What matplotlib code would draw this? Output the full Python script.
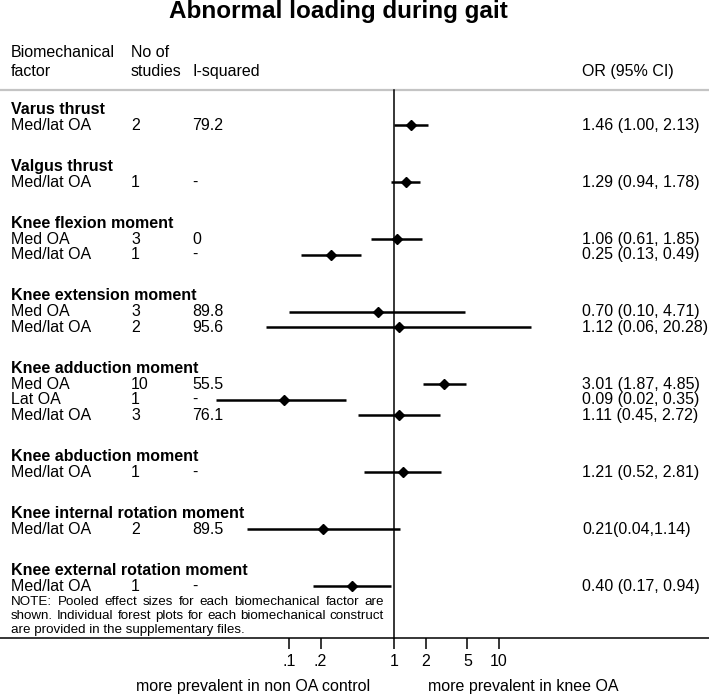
import numpy as np
import matplotlib
matplotlib.use("Agg")
import matplotlib.pyplot as plt
from matplotlib.transforms import blended_transform_factory

plt.rcParams['font.family'] = ['Liberation Sans', 'DejaVu Sans']

# data
factors = ["Varus thrust", "Valgus thrust", "Knee flexion moment",
           "Knee extension moment", "Knee adduction moment",
           "Knee abduction moment", "Knee internal rotation moment",
           "Knee external rotation moment"]
group_of = [0, 1, 2, 2, 3, 3, 4, 4, 4, 5, 6, 7]
subgroups = ["Med/lat OA", "Med/lat OA", "Med OA", "Med/lat OA", "Med OA",
             "Med/lat OA", "Med OA", "Lat OA", "Med/lat OA", "Med/lat OA",
             "Med/lat OA", "Med/lat OA"]
n_studies = ["2", "1", "3", "1", "3", "2", "10", "1", "3", "1", "2", "1"]
i_squared = ["79.2", "-", "0", "-", "89.8", "95.6", "55.5", "-", "76.1",
             "-", "89.5", "-"]
or_est = [1.46, 1.29, 1.06, 0.25, 0.70, 1.12, 3.01, 0.09, 1.11, 1.21, 0.21, 0.40]
ci_lo = [1.00, 0.94, 0.61, 0.13, 0.10, 0.06, 1.87, 0.02, 0.45, 0.52, 0.04, 0.17]
ci_hi = [2.13, 1.78, 1.85, 0.49, 4.71, 20.28, 4.85, 0.35, 2.72, 2.81, 1.14, 0.94]
or_text = ["1.46 (1.00, 2.13)", "1.29 (0.94, 1.78)", "1.06 (0.61, 1.85)",
           "0.25 (0.13, 0.49)", "0.70 (0.10, 4.71)", "1.12 (0.06, 20.28)",
           "3.01 (1.87, 4.85)", "0.09 (0.02, 0.35)", "1.11 (0.45, 2.72)",
           "1.21 (0.52, 2.81)", "0.21(0.04,1.14)", "0.40 (0.17, 0.94)"]
tick_vals = [0.1, 0.2, 1, 2, 5, 10]
tick_labels = [".1", ".2", "1", "2", "5", "10"]
note_lines = ["NOTE: Pooled effect sizes for each biomechanical factor are",
              "shown. Individual forest plots for each biomechanical construct",
              "are provided in the supplementary files."]

W, H = 709, 694
x_one, px_dec = 394, 105   # pixel of OR=1, pixels per decade

fig = plt.figure(figsize=(W / 100, H / 100), dpi=100)
ax = fig.add_axes([0, 0, 1, 1])
ax.set_xscale('log')
ax.set_xlim(10 ** (-x_one / px_dec), 10 ** ((W - x_one) / px_dec))
ax.set_ylim(H, 0)
ax.axis('off')
tr = blended_transform_factory(ax.transAxes, ax.transData)

fs = 11.5


def put(px, y, s, **kw):
    kw.setdefault('fontsize', fs)
    kw.setdefault('va', 'center')
    ax.text(px / W, y, s, transform=tr, **kw)


# title and header
put(338, 11, "Abnormal loading during gait", fontsize=17.5, weight='bold', ha='center')
put(11, 52, "Biomechanical")
put(11, 71, "factor")
put(131, 52, "No of")
put(131, 71, "studies")
put(192, 71, "I-squared")
put(582, 71, "OR (95% CI)")
ax.plot([0, 1], [90, 90], transform=tr, color='#c4c4c4', lw=1.6)

# row positions
row_y = []
head_y = []
y = 109
for g in range(len(factors)):
    head_y.append(y)
    y += 16
    rows = [i for i, gg in enumerate(group_of) if gg == g]
    for k, i in enumerate(rows):
        row_y.append(y)
        if k < len(rows) - 1:
            y += 15.6
    y += 41

for g, name in enumerate(factors):
    put(11, head_y[g], name, weight='bold')

for i in range(len(subgroups)):
    yy = row_y[i]
    put(11, yy, subgroups[i])
    put(131, yy, n_studies[i])
    put(192, yy, i_squared[i])
    put(582, yy, or_text[i])
    ax.plot([ci_lo[i], ci_hi[i]], [yy, yy], color='black', lw=1.8,
            solid_capstyle='butt')
    ax.plot(or_est[i], yy, marker='D', color='black', ms=5)

# null line and x axis
ax.plot([1, 1], [90, 638], color='black', lw=1.1)
ax.plot([0, 1], [638, 638], transform=tr, color='black', lw=1.1)
ax.vlines(tick_vals, 638, 649, color='black', lw=1.1)
for v, lab in zip(tick_vals, tick_labels):
    ax.text(v, 661, lab, ha='center', va='center', fontsize=fs)
put(370, 686, "more prevalent in non OA control", ha='right')
put(428, 686, "more prevalent in knee OA", ha='left')

# note, justified
renderer = fig.canvas.get_renderer()
note_fs = 9.6
note_y = [602, 616, 630]
left_px, right_px = 11, 384
for li, line in enumerate(note_lines):
    words = line.split()
    if li == len(note_lines) - 1:
        put(left_px, note_y[li], line, fontsize=note_fs)
        continue
    widths = []
    objs = []
    for w in words:
        t = ax.text(0, note_y[li], w, transform=tr, fontsize=note_fs, va='center')
        widths.append(t.get_window_extent(renderer).width)
        objs.append(t)
    gap = (right_px - left_px - sum(widths)) / (len(words) - 1)
    xpos = left_px
    for t, wdt in zip(objs, widths):
        t.set_x(xpos / W)
        xpos += wdt + gap

fig.savefig("out.png", dpi=100)
